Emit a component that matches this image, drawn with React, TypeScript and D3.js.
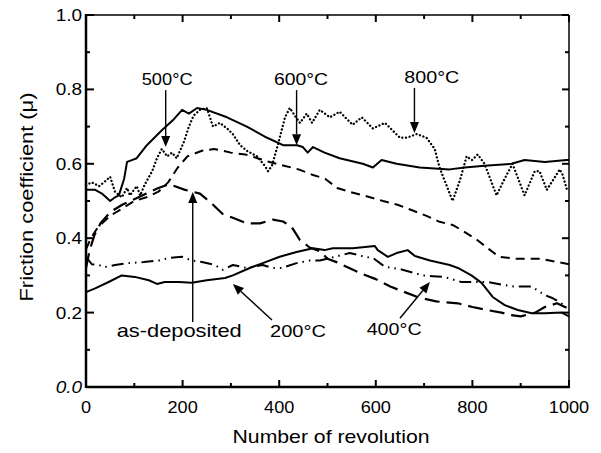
import React from "react";
import * as d3 from "d3";

const xTickValues = [0, 200, 400, 600, 800, 1000];
const xMinorValues = [100, 300, 500, 700, 900];
const yTickValues = [0, 0.2, 0.4, 0.6, 0.8, 1.0];
const yMinorValues = [0.1, 0.3, 0.5, 0.7, 0.9];
const xTickLabels = ["0", "200", "400", "600", "800", "1000"];
const yTickLabels = ["0.0", "0.2", "0.4", "0.6", "0.8", "1.0"];

// upper solid (600°C)
const s600: [number, number][] = [
  [0, .53], [19, .53], [33, .52], [50, .50], [60, .51], [68, .515], [79, .56], [85, .605], [95, .61],
  [105, .615], [126, .65], [157, .69], [182, .72], [199, .745], [213, .735], [230, .75], [250, .745],
  [292, .725], [333, .70], [375, .67], [408, .65], [437, .65], [449, .645], [459, .63], [470, .645],
  [494, .63], [525, .615], [573, .60], [594, .59], [612, .61], [643, .60], [691, .59], [753, .585],
  [784, .59], [825, .595], [881, .60], [908, .61], [950, .605], [995, .61], [1000, .61],
];
// dotted (800°C)
const s800: [number, number][] = [
  [0, .543], [12, .55], [27, .54], [37, .55], [50, .565], [60, .525], [74, .51], [85, .535], [91, .515],
  [105, .54], [112, .515], [122, .545], [137, .58], [147, .615], [157, .64], [168, .62], [178, .63],
  [188, .615], [203, .66], [213, .70], [223, .73], [236, .745], [250, .75], [263, .70], [277, .71],
  [292, .695], [304, .68], [319, .65], [333, .635], [354, .62], [370, .595], [377, .58], [385, .595],
  [397, .65], [412, .725], [422, .75], [432, .73], [443, .71], [457, .735], [468, .71], [484, .745],
  [505, .725], [525, .74], [552, .705], [571, .725], [594, .695], [619, .71], [650, .67], [664, .67],
  [685, .68], [705, .67], [722, .64], [732, .59], [747, .54], [759, .50], [774, .555], [788, .62],
  [799, .61], [811, .625], [825, .60], [850, .515], [863, .55], [883, .60], [908, .515], [929, .58],
  [939, .58], [954, .53], [981, .585], [987, .57], [997, .525],
];
// short dashed (500°C)
const s500: [number, number][] = [
  [0, .37], [10, .40], [25, .43], [50, .46], [75, .48], [100, .50], [125, .51], [150, .525], [170, .55],
  [190, .59], [210, .62], [240, .635], [265, .64], [300, .63], [330, .625], [355, .615], [380, .605],
  [410, .595], [440, .585], [470, .57], [495, .56], [520, .535], [545, .525], [575, .515], [615, .50],
  [645, .49], [675, .475], [705, .46], [730, .445], [760, .435], [780, .42], [810, .395], [835, .37],
  [855, .35], [890, .345], [940, .345], [980, .335], [1000, .33],
];
// long dashed (as-deposited)
const sAsDep: [number, number][] = [
  [0, .32], [8, .37], [18, .41], [30, .44], [50, .47], [75, .49], [100, .505], [125, .52], [150, .535],
  [172, .545], [205, .53], [236, .52], [263, .49], [283, .465], [304, .455], [333, .44], [360, .44],
  [387, .45], [408, .445], [426, .43], [443, .395], [463, .375], [484, .365], [500, .345], [520, .335],
  [545, .32], [570, .305], [600, .29], [630, .27], [660, .255], [690, .24], [725, .23], [770, .225],
  [800, .215], [830, .207], [860, .20], [880, .193], [900, .19], [930, .20], [950, .215], [975, .225],
  [1000, .21],
];
// lower solid (200°C)
const s200: [number, number][] = [
  [0, .255], [19, .265], [48, .283], [74, .30], [101, .296], [130, .287], [147, .277], [163, .282],
  [192, .282], [219, .28], [250, .287], [288, .293], [304, .30], [339, .32], [366, .333], [401, .35],
  [436, .363], [470, .373], [494, .368], [511, .373], [552, .373], [598, .379], [604, .368], [625, .35],
  [643, .36], [666, .368], [681, .352], [712, .34], [753, .328], [770, .32], [798, .30], [819, .28],
  [842, .242], [867, .22], [894, .207], [923, .198], [950, .198], [985, .20], [1000, .19],
];
// dash-dot-dot (400°C)
const s400: [number, number][] = [
  [0, .35], [12, .33], [27, .328], [37, .322], [60, .328], [89, .333], [120, .336], [151, .34],
  [172, .347], [199, .35], [219, .34], [240, .336], [267, .328], [283, .315], [304, .328], [333, .32],
  [366, .328], [387, .32], [405, .32], [436, .333], [463, .34], [484, .34], [515, .35], [546, .36],
  [563, .355], [577, .35], [594, .347], [619, .323], [635, .32], [650, .317], [670, .31], [697, .30],
  [718, .298], [739, .296], [749, .293], [778, .282], [801, .282], [832, .282], [867, .274], [887, .27],
  [923, .27], [950, .247], [964, .24], [981, .228], [995, .215],
];

const labelTexts = ["500°C", "600°C", "800°C", "as-deposited", "200°C", "400°C"];

const W = 601, H = 453;
const FONT = "Arial, 'Liberation Sans', Helvetica, sans-serif";

export default function App() {
  const x = d3.scaleLinear().domain([0, 1000]).range([86, 569]);
  const y = d3.scaleLinear().domain([0, 1]).range([387, 15]);
  const line = d3.line<[number, number]>().x(d => x(d[0])).y(d => y(d[1]));

  const seriesDefs = [
    { data: s600, dash: undefined as string | undefined, w: 2, cap: "butt" },
    { data: s800, dash: "0.1 3.6", w: 2.3, cap: "round" },
    { data: s500, dash: "9 6", w: 2, cap: "butt" },
    { data: sAsDep, dash: "15 7", w: 2.2, cap: "butt" },
    { data: s200, dash: undefined, w: 2, cap: "butt" },
    { data: s400, dash: "12 5 1.5 5 1.5 5", w: 2, cap: "butt" },
  ];

  // annotations: text center (data), baseline (data), arrow from -> to (data), text width px
  const ann = [
    { t: labelTexts[0], tx: 168, ty: 0.812, tw: 51, from: [165, 0.798], to: [165, 0.645] },
    { t: labelTexts[1], tx: 445, ty: 0.812, tw: 54, from: [436, 0.798], to: [436, 0.65] },
    { t: labelTexts[2], tx: 716, ty: 0.817, tw: 55, from: [680, 0.804], to: [680, 0.683] },
    { t: labelTexts[3], tx: 193, ty: 0.134, tw: 125, from: [221, 0.175], to: [221, 0.524] },
    { t: labelTexts[4], tx: 439, ty: 0.134, tw: 56, from: [385, 0.18], to: [304, 0.277] },
    { t: labelTexts[5], tx: 638, ty: 0.14, tw: 55, from: [650, 0.185], to: [712, 0.282] },
  ];

  const arrow = (a: typeof ann[number], i: number) => {
    const x1 = x(a.from[0]), y1 = y(a.from[1]), x2 = x(a.to[0]), y2 = y(a.to[1]);
    const dx = x2 - x1, dy = y2 - y1, len = Math.hypot(dx, dy);
    const ux = dx / len, uy = dy / len;
    const hl = 11, hw = 4.5;
    const bx = x2 - ux * hl, by = y2 - uy * hl;
    const pts = [
      [x2, y2],
      [bx - uy * hw, by + ux * hw],
      [bx + uy * hw, by - ux * hw],
    ].map(p => p.join(",")).join(" ");
    return (
      <g key={"a" + i}>
        <line x1={x1} y1={y1} x2={bx} y2={by} stroke="#000" strokeWidth={1.4} />
        <polygon points={pts} fill="#000" />
      </g>
    );
  };

  return (
    <svg width={W} height={H} style={{ position: "absolute", left: 0, top: 0, background: "#fff" }}
      fontFamily={FONT}>
      <rect x={0} y={0} width={W} height={H} fill="#fff" />
      {/* series */}
      {seriesDefs.map((s, i) => (
        <path key={i} d={line(s.data) || ""} fill="none" stroke="#000" strokeWidth={s.w}
          strokeDasharray={s.dash} strokeLinecap={s.cap as any} strokeLinejoin="round" />
      ))}
      {/* frame */}
      <line x1={x(0)} y1={y(1)} x2={x(1000)} y2={y(1)} stroke="#000" strokeWidth={1.3} />
      <line x1={x(1000)} y1={y(1)} x2={x(1000)} y2={y(0)} stroke="#000" strokeWidth={1.5} />
      <line x1={x(0)} y1={y(0)} x2={x(1000) + 1} y2={y(0)} stroke="#000" strokeWidth={2.5} />
      <line x1={x(0)} y1={y(1) - 1} x2={x(0)} y2={y(0) + 1} stroke="#000" strokeWidth={2.5} />
      {/* x ticks */}
      {xTickValues.map(v => (
        <g key={"xt" + v}>
          <line x1={x(v)} x2={x(v)} y1={y(0)} y2={y(0) - 7} stroke="#000" strokeWidth={2} />
          <line x1={x(v)} x2={x(v)} y1={y(1)} y2={y(1) + 7} stroke="#000" strokeWidth={2} />
        </g>
      ))}
      {xMinorValues.map(v => (
        <g key={"xm" + v}>
          <line x1={x(v)} x2={x(v)} y1={y(0)} y2={y(0) - 4} stroke="#000" strokeWidth={2} />
          <line x1={x(v)} x2={x(v)} y1={y(1)} y2={y(1) + 4} stroke="#000" strokeWidth={2} />
        </g>
      ))}
      {/* y ticks */}
      {yTickValues.map(v => (
        <g key={"yt" + v}>
          <line x1={x(0)} x2={x(0) + 8} y1={y(v)} y2={y(v)} stroke="#000" strokeWidth={2} />
          <line x1={x(1000)} x2={x(1000) - 7} y1={y(v)} y2={y(v)} stroke="#000" strokeWidth={2} />
        </g>
      ))}
      {yMinorValues.map(v => (
        <g key={"ym" + v}>
          <line x1={x(0)} x2={x(0) + 4} y1={y(v)} y2={y(v)} stroke="#000" strokeWidth={2} />
          <line x1={x(1000)} x2={x(1000) - 4} y1={y(v)} y2={y(v)} stroke="#000" strokeWidth={2} />
        </g>
      ))}
      {/* tick labels */}
      {xTickValues.map((v, i) => (
        <text key={"xl" + v} x={x(v)} y={413} textAnchor="middle" fontSize={16.5}
          transform={`translate(${x(v)},0) scale(1.1,1) translate(${-x(v)},0)`}>{xTickLabels[i]}</text>
      ))}
      {yTickValues.map((v, i) => (
        <text key={"yl" + v} x={82} y={y(v) + 6} textAnchor="end" fontSize={16.5}
          fontStyle={i === 0 ? "italic" : "normal"}
          transform={`translate(82,0) scale(1.15,1) translate(-82,0)`}>{yTickLabels[i]}</text>
      ))}
      {/* axis titles */}
      <text x={331} y={443} textAnchor="middle" fontSize={19} textLength={197}
        lengthAdjust="spacingAndGlyphs">Number of revolution</text>
      <text transform="translate(33,197) rotate(-90)" textAnchor="middle" fontSize={19}
        textLength={209} lengthAdjust="spacingAndGlyphs">Friction coefficient (μ)</text>
      {/* annotations */}
      {ann.map((a, i) => arrow(a, i))}
      {ann.map((a, i) => (
        <text key={"t" + i} x={x(a.tx) - a.tw / 2} y={y(a.ty)} fontSize={i === 3 ? 18.5 : 16.5}
          textLength={a.tw} lengthAdjust="spacingAndGlyphs">{a.t}</text>
      ))}
    </svg>
  );
}
